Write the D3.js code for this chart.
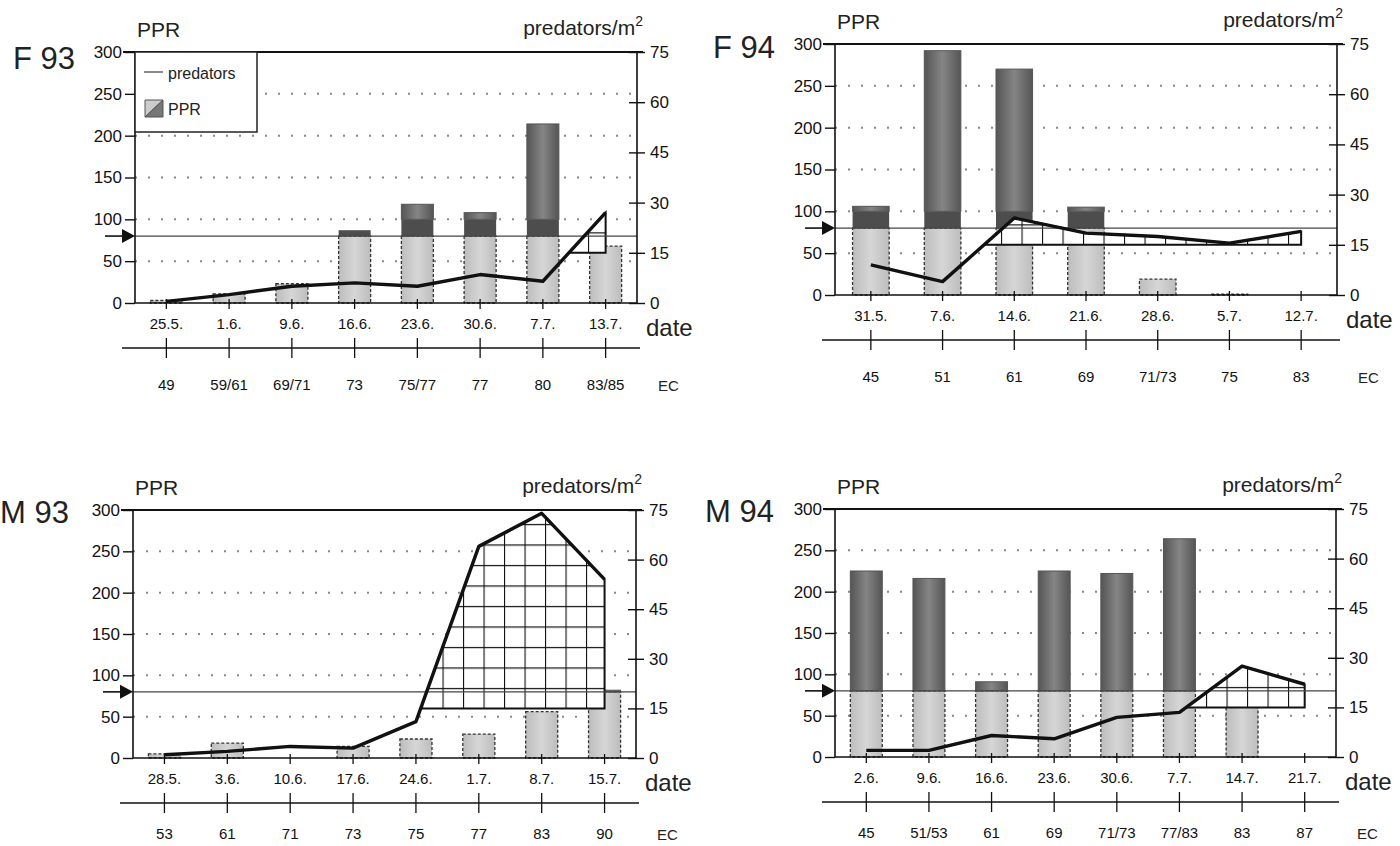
<!DOCTYPE html>
<html>
<head>
<meta charset="utf-8">
<script src="https://cdn.jsdelivr.net/npm/d3@7.9.0/dist/d3.min.js"></script>
<style>
  body { margin: 0; background: #fff; }
  svg { display: block; font-family: "Liberation Sans", Arial, sans-serif; }
</style>
</head>
<body>
<svg id="chart" width="1400" height="846"></svg>
<script>
// ---- data ----
const f93Dates = ['25.5.', '1.6.', '9.6.', '16.6.', '23.6.', '30.6.', '7.7.', '13.7.'];
const f93EC = ['49', '59/61', '69/71', '73', '75/77', '77', '80', '83/85'];
const f93PPR = [3, 11, 23, 87, 118, 108, 214, 68];
const f93Pred = [0.5, 2.5, 5, 6, 5, 8.5, 6.5, 27];

const f94Dates = ['31.5.', '7.6.', '14.6.', '21.6.', '28.6.', '5.7.', '12.7.'];
const f94EC = ['45', '51', '61', '69', '71/73', '75', '83'];
const f94PPR = [106, 292, 270, 105, 19, 1, 0];
const f94Pred = [9, 4, 23, 18.5, 17.5, 15.5, 19];

const m93Dates = ['28.5.', '3.6.', '10.6.', '17.6.', '24.6.', '1.7.', '8.7.', '15.7.'];
const m93EC = ['53', '61', '71', '73', '75', '77', '83', '90'];
const m93PPR = [5, 18, 0, 14, 23, 29, 56, 82];
const m93Pred = [1, 2, 3.5, 3, 11, 64, 74, 54];

const m94Dates = ['2.6.', '9.6.', '16.6.', '23.6.', '30.6.', '7.7.', '14.7.', '21.7.'];
const m94EC = ['45', '51/53', '61', '69', '71/73', '77/83', '83', '87'];
const m94PPR = [225, 216, 91, 225, 222, 264, 60, 0];
const m94Pred = [2, 2, 6.5, 5.5, 12, 13.5, 27.5, 22];

const pprTicks = [0, 50, 100, 150, 200, 250, 300];
const gridTicks = [50, 100, 150, 200, 250];
const predTicks = [0, 15, 30, 45, 60, 75];
const pprThreshold = 80;   // arrow level
const predThreshold = 15;  // hatched above this

const panels = [
  { name: 'F 93', dates: f93Dates, ec: f93EC, ppr: f93PPR, pred: f93Pred,
    left: 135, right: 637, top: 52, bottom: 303, band: 100, legend: true, lx: 13, ly: 69, ecPad: 21 },
  { name: 'F 94', dates: f94Dates, ec: f94EC, ppr: f94PPR, pred: f94Pred,
    left: 835, right: 1337, top: 44, bottom: 295, band: 100, legend: false, lx: 713, ly: 58, ecPad: 21 },
  { name: 'M 93', dates: m93Dates, ec: m93EC, ppr: m93PPR, pred: m93Pred,
    left: 133, right: 636, top: 510, bottom: 758, band: null, legend: false, lx: 0, ly: 523, ecPad: 15 },
  { name: 'M 94', dates: m94Dates, ec: m94EC, ppr: m94PPR, pred: m94Pred,
    left: 835, right: 1336, top: 509, bottom: 757, band: null, legend: false, lx: 705, ly: 522, ecPad: 15 }
];

const svg = d3.select('#chart');
const defs = svg.append('defs');

// cylinder-like shading of the bars
const grad = defs.append('linearGradient').attr('id', 'darkGrad')
  .attr('x1', '0%').attr('x2', '100%').attr('y1', '0%').attr('y2', '0%');
grad.append('stop').attr('offset', '0%').attr('stop-color', '#555');
grad.append('stop').attr('offset', '50%').attr('stop-color', '#858585');
grad.append('stop').attr('offset', '100%').attr('stop-color', '#555');

const lightGrad = defs.append('linearGradient').attr('id', 'lightGrad')
  .attr('x1', '0%').attr('x2', '100%').attr('y1', '0%').attr('y2', '0%');
lightGrad.append('stop').attr('offset', '0%').attr('stop-color', '#bdbdbd');
lightGrad.append('stop').attr('offset', '50%').attr('stop-color', '#d6d6d6');
lightGrad.append('stop').attr('offset', '100%').attr('stop-color', '#bdbdbd');

// insert crossing points where the predator line passes the hatch level
function withCrossings(xs, vs, lim) {
  const pts = [];
  xs.forEach((x, i) => {
    if (i > 0) {
      const a = vs[i - 1], b = vs[i];
      if ((a - lim) * (b - lim) < 0) {
        const t = (lim - a) / (b - a);
        pts.push([xs[i - 1] + t * (x - xs[i - 1]), lim]);
      }
    }
    pts.push([x, vs[i]]);
  });
  return pts;
}

panels.forEach((p, pi) => {
  const g = svg.append('g');

  const x = d3.scaleBand().domain(p.dates).range([p.left, p.right])
    .paddingInner(0.49).paddingOuter(0.245);
  const yL = d3.scaleLinear().domain([0, 300]).range([p.bottom, p.top]);
  const yR = d3.scaleLinear().domain([0, 75]).range([p.bottom, p.top]);
  const cx = d => x(d) + x.bandwidth() / 2;

  // hatch pattern anchored to the hatch base
  const pid = 'hatch' + pi;
  const pat = defs.append('pattern').attr('id', pid)
    .attr('patternUnits', 'userSpaceOnUse').attr('width', 20.5).attr('height', 20.5)
    .attr('patternTransform', `translate(${p.left + 2},${yR(predThreshold)})`);
  pat.append('rect').attr('width', 20.5).attr('height', 20.5).attr('fill', '#fff');
  pat.append('path').attr('d', 'M0,0V20.5M0,0H20.5').attr('stroke', '#111').attr('stroke-width', 2.2);

  // dotted grid
  g.selectAll('.grid').data(gridTicks).join('line')
    .attr('x1', p.left).attr('x2', p.right)
    .attr('y1', d => yL(d)).attr('y2', d => yL(d))
    .attr('stroke', '#888').attr('stroke-width', 2).attr('stroke-dasharray', '2,11');

  // bars: light up to threshold, dark band, shaded top
  const bars = g.selectAll('.bar').data(p.ppr.map((v, i) => ({ v, d: p.dates[i] })))
    .join('g');
  bars.filter(b => b.v > 0).append('rect')
    .attr('x', b => x(b.d)).attr('width', x.bandwidth())
    .attr('y', b => yL(Math.min(b.v, pprThreshold)))
    .attr('height', b => yL(0) - yL(Math.min(b.v, pprThreshold)))
    .attr('fill', 'url(#lightGrad)').attr('stroke', '#333').attr('stroke-width', 1.3)
    .attr('stroke-dasharray', '3,2');
  if (p.band) {
    bars.filter(b => b.v > pprThreshold).append('rect')
      .attr('x', b => x(b.d)).attr('width', x.bandwidth())
      .attr('y', b => yL(Math.min(b.v, p.band)))
      .attr('height', b => yL(pprThreshold) - yL(Math.min(b.v, p.band)))
      .attr('fill', '#4d4d4d');
  }
  const darkBase = p.band || pprThreshold;
  bars.filter(b => b.v > darkBase).append('rect')
    .attr('x', b => x(b.d)).attr('width', x.bandwidth())
    .attr('y', b => yL(b.v))
    .attr('height', b => yL(darkBase) - yL(b.v))
    .attr('fill', 'url(#darkGrad)').attr('stroke', '#555').attr('stroke-width', 1);

  // hatched area above 15 predators/m2
  const pts = withCrossings(p.dates.map(cx), p.pred, predThreshold);
  const area = d3.area().defined(d => d[1] >= predThreshold)
    .x(d => d[0]).y0(yR(predThreshold)).y1(d => yR(d[1]));
  g.append('path').attr('d', area(pts))
    .attr('fill', `url(#${pid})`).attr('stroke', '#111').attr('stroke-width', 2);

  // threshold line
  g.append('line').attr('x1', p.left).attr('x2', p.right)
    .attr('y1', yL(pprThreshold)).attr('y2', yL(pprThreshold))
    .attr('stroke', '#444').attr('stroke-width', 1.3);

  // predators line
  const line = d3.line().x((d, i) => cx(p.dates[i])).y(d => yR(d));
  g.append('path').attr('d', line(p.pred))
    .attr('fill', 'none').attr('stroke', '#111').attr('stroke-width', 3.4)
    .attr('stroke-linejoin', 'round');

  // frame
  g.append('line').attr('x1', p.left - 12).attr('x2', p.right + 6)
    .attr('y1', p.top).attr('y2', p.top).attr('stroke', '#111').attr('stroke-width', 2);
  g.append('line').attr('x1', p.left).attr('x2', p.left)
    .attr('y1', p.top).attr('y2', p.bottom).attr('stroke', '#111').attr('stroke-width', 1.6);
  g.append('line').attr('x1', p.right).attr('x2', p.right)
    .attr('y1', p.top).attr('y2', p.bottom).attr('stroke', '#111').attr('stroke-width', 1.6);
  g.append('line').attr('x1', p.left).attr('x2', p.right)
    .attr('y1', p.bottom).attr('y2', p.bottom).attr('stroke', '#111').attr('stroke-width', 1.6);

  // left axis
  const la = g.append('g').attr('transform', `translate(${p.left},0)`)
    .call(d3.axisLeft(yL).tickValues(pprTicks).tickSize(10).tickPadding(3));
  la.select('.domain').remove();
  la.selectAll('line').attr('stroke', '#111').attr('stroke-width', 1.4);
  la.selectAll('text').attr('font-size', 17).attr('font-family', null).attr('fill', '#111');

  // right axis with crossing ticks
  const ra = g.append('g').attr('transform', `translate(${p.right},0)`)
    .call(d3.axisRight(yR).tickValues(predTicks).tickSize(8).tickPadding(5));
  ra.select('.domain').remove();
  ra.selectAll('line').attr('x1', -8).attr('stroke', '#111').attr('stroke-width', 1.4);
  ra.selectAll('text').attr('font-size', 17).attr('font-family', null).attr('fill', '#111');

  // date axis
  const da = g.append('g').attr('transform', `translate(0,${p.bottom})`)
    .call(d3.axisBottom(x).tickSize(6).tickPadding(9));
  da.select('.domain').remove();
  da.selectAll('line').attr('y1', -4).attr('stroke', '#111').attr('stroke-width', 1.3);
  da.selectAll('text').attr('font-size', 15).attr('font-family', null).attr('fill', '#111');

  // EC axis
  const ecY = p.bottom + 45;
  const ecScale = d3.scaleBand().domain(p.ec.map((e, i) => i)).range([p.left, p.right])
    .paddingInner(0.49).paddingOuter(0.245);
  const ea = g.append('g').attr('transform', `translate(0,${ecY})`)
    .call(d3.axisBottom(ecScale).tickSize(10).tickPadding(p.ecPad).tickFormat(i => p.ec[i]));
  ea.select('.domain').remove();
  ea.selectAll('line').attr('y1', -10).attr('stroke', '#111').attr('stroke-width', 1.3);
  ea.selectAll('text').attr('font-size', 15).attr('font-family', null).attr('fill', '#111');
  g.append('line').attr('x1', p.left - 13).attr('x2', p.right + 3)
    .attr('y1', ecY).attr('y2', ecY).attr('stroke', '#111').attr('stroke-width', 1.4);

  // arrow at threshold
  const ay = yL(pprThreshold);
  g.append('line').attr('x1', p.left - 30).attr('x2', p.left - 10)
    .attr('y1', ay).attr('y2', ay).attr('stroke', '#111').attr('stroke-width', 1.6);
  g.append('path').attr('d', `M${p.left - 13},${ay - 7}L${p.left},${ay}L${p.left - 13},${ay + 7}Z`)
    .attr('fill', '#111');

  // titles
  g.append('text').attr('x', p.lx).attr('y', p.ly).attr('font-size', 31).attr('fill', '#222')
    .text(p.name);
  g.append('text').attr('x', p.left + 2).attr('y', p.top - 15).attr('font-size', 21).attr('fill', '#222')
    .text('PPR');
  const pt = g.append('text').attr('x', p.right + 6).attr('y', p.top - 17)
    .attr('text-anchor', 'end').attr('font-size', 21).attr('fill', '#222');
  pt.append('tspan').text('predators/m');
  pt.append('tspan').attr('font-size', 14).attr('dy', -9).text('2');
  g.append('text').attr('x', p.right + 9).attr('y', p.bottom + 33).attr('font-size', 24)
    .attr('fill', '#222').text('date');
  g.append('text').attr('x', p.right + 21).attr('y', ecY + 10 + p.ecPad + 12).attr('font-size', 15)
    .attr('fill', '#222').text('EC');

  // legend
  if (p.legend) {
    const lg = g.append('g');
    lg.append('rect').attr('x', p.left).attr('y', p.top).attr('width', 122).attr('height', 80)
      .attr('fill', '#fff').attr('stroke', '#222').attr('stroke-width', 1.5);
    lg.append('line').attr('x1', p.left + 9).attr('x2', p.left + 28)
      .attr('y1', p.top + 20).attr('y2', p.top + 20).attr('stroke', '#888').attr('stroke-width', 2);
    lg.append('text').attr('x', p.left + 33).attr('y', p.top + 27).attr('font-size', 16)
      .attr('fill', '#222').text('predators');
    lg.append('path').attr('d', `M${p.left + 10},${p.top + 65}L${p.left + 10},${p.top + 48}L${p.left + 28},${p.top + 48}Z`)
      .attr('fill', '#ccc').attr('stroke', '#555');
    lg.append('path').attr('d', `M${p.left + 10},${p.top + 65}L${p.left + 28},${p.top + 48}L${p.left + 28},${p.top + 65}Z`)
      .attr('fill', '#777').attr('stroke', '#555');
    lg.append('text').attr('x', p.left + 33).attr('y', p.top + 63).attr('font-size', 16)
      .attr('fill', '#222').text('PPR');
  }
});
</script>
</body>
</html>
